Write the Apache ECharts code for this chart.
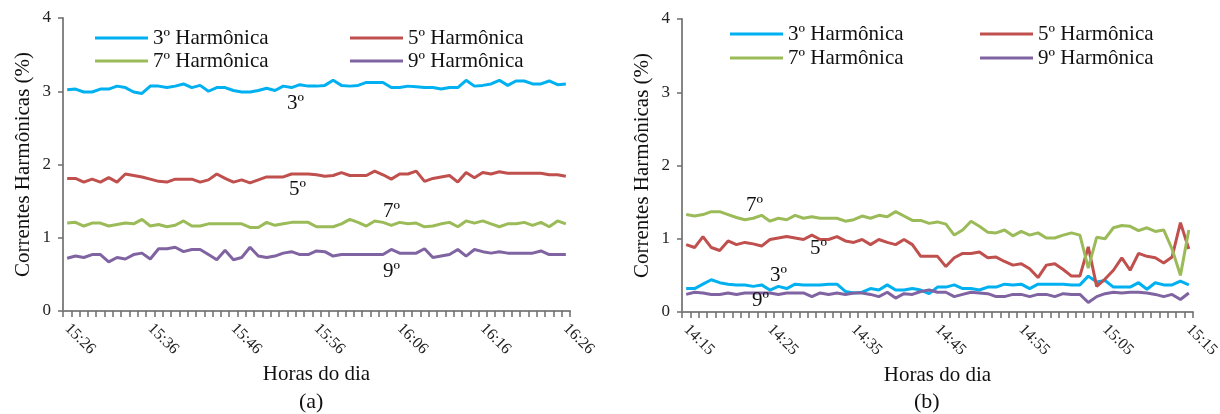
<!DOCTYPE html>
<html><head><meta charset="utf-8">
<script src="https://cdn.jsdelivr.net/npm/echarts@6/dist/echarts.min.js"></script>
<style>html,body{margin:0;padding:0;background:#fff}#c{width:1220px;height:414px}</style>
</head><body><div id="c"></div>
<script>
const timesA = ["15:26","15:27","15:28","15:29","15:30","15:31","15:32","15:33","15:34","15:35","15:36","15:37","15:38","15:39","15:40","15:41","15:42","15:43","15:44","15:45","15:46","15:47","15:48","15:49","15:50","15:51","15:52","15:53","15:54","15:55","15:56","15:57","15:58","15:59","16:00","16:01","16:02","16:03","16:04","16:05","16:06","16:07","16:08","16:09","16:10","16:11","16:12","16:13","16:14","16:15","16:16","16:17","16:18","16:19","16:20","16:21","16:22","16:23","16:24","16:25","16:26"];
const timesB = ["14:15","14:16","14:17","14:18","14:19","14:20","14:21","14:22","14:23","14:24","14:25","14:26","14:27","14:28","14:29","14:30","14:31","14:32","14:33","14:34","14:35","14:36","14:37","14:38","14:39","14:40","14:41","14:42","14:43","14:44","14:45","14:46","14:47","14:48","14:49","14:50","14:51","14:52","14:53","14:54","14:55","14:56","14:57","14:58","14:59","15:00","15:01","15:02","15:03","15:04","15:05","15:06","15:07","15:08","15:09","15:10","15:11","15:12","15:13","15:14","15:15"];
const seriesNames = ["3º Harmônica","5º Harmônica","7º Harmônica","9º Harmônica"];
const yAxisTitle = "Correntes Harmônicas (%)";
const xAxisTitle = "Horas do dia";

const h3a = [3.02,3.03,2.99,2.99,3.03,3.03,3.07,3.05,2.99,2.97,3.07,3.07,3.05,3.07,3.10,3.05,3.08,3.00,3.05,3.05,3.01,2.99,2.99,3.01,3.04,3.01,3.07,3.05,3.09,3.07,3.07,
  3.08,3.15,3.08,3.07,3.08,3.12,3.12,3.12,3.05,3.05,3.07,3.06,3.05,3.05,3.03,3.05,3.05,3.15,3.07,3.08,3.10,3.15,3.08,3.14,3.14,3.10,3.10,3.14,3.09,3.10];
const h5a = [1.81,1.81,1.76,1.80,1.76,1.82,1.76,1.87,1.85,1.83,1.80,1.77,1.76,1.80,1.80,1.80,1.76,1.79,1.87,1.81,1.76,1.79,1.75,1.79,1.83,1.83,1.83,1.87,1.87,1.87,1.86,
  1.84,1.85,1.89,1.85,1.85,1.85,1.91,1.86,1.80,1.87,1.87,1.91,1.77,1.81,1.83,1.85,1.76,1.89,1.82,1.89,1.87,1.90,1.88,1.88,1.88,1.88,1.88,1.86,1.86,1.84];
const h7a = [1.20,1.21,1.16,1.20,1.20,1.16,1.18,1.20,1.19,1.25,1.16,1.18,1.15,1.17,1.23,1.16,1.16,1.19,1.19,1.19,1.19,1.19,1.14,1.14,1.21,1.17,1.19,1.21,1.21,1.21,1.15,
  1.15,1.15,1.19,1.25,1.21,1.16,1.23,1.21,1.17,1.21,1.19,1.20,1.15,1.16,1.19,1.21,1.15,1.23,1.20,1.23,1.19,1.15,1.19,1.19,1.21,1.17,1.21,1.15,1.23,1.19];
const h9a = [0.72,0.75,0.73,0.77,0.77,0.67,0.73,0.71,0.77,0.79,0.71,0.85,0.85,0.87,0.81,0.84,0.84,0.77,0.70,0.83,0.70,0.73,0.87,0.75,0.73,0.75,0.79,0.81,0.77,0.77,0.82,
  0.81,0.75,0.77,0.77,0.77,0.77,0.77,0.77,0.84,0.79,0.79,0.79,0.85,0.73,0.75,0.77,0.84,0.75,0.84,0.81,0.79,0.81,0.79,0.79,0.79,0.79,0.82,0.77,0.77,0.77];

const h3b = [0.32,0.32,0.38,0.44,0.40,0.38,0.37,0.37,0.35,0.37,0.30,0.35,0.32,0.38,0.37,0.37,0.37,0.38,0.38,0.28,0.26,0.27,0.32,0.30,0.37,0.30,0.30,0.32,0.30,0.25,0.34,
  0.34,0.37,0.32,0.32,0.30,0.34,0.34,0.38,0.37,0.38,0.32,0.38,0.38,0.38,0.38,0.37,0.37,0.49,0.41,0.43,0.34,0.34,0.34,0.40,0.31,0.40,0.37,0.37,0.42,0.37];
const h5b = [0.92,0.88,1.03,0.88,0.84,0.97,0.92,0.95,0.93,0.90,0.99,1.01,1.03,1.01,0.99,1.05,0.99,0.99,1.03,0.97,0.95,0.99,0.92,0.99,0.95,0.92,0.99,0.92,0.76,0.76,0.76,
  0.62,0.74,0.80,0.80,0.82,0.74,0.75,0.69,0.64,0.66,0.59,0.47,0.64,0.66,0.58,0.49,0.49,0.89,0.35,0.45,0.57,0.74,0.57,0.80,0.76,0.74,0.67,0.75,1.22,0.86];
const h7b = [1.33,1.31,1.33,1.37,1.37,1.33,1.29,1.26,1.28,1.32,1.24,1.28,1.26,1.32,1.28,1.30,1.28,1.28,1.28,1.24,1.26,1.31,1.28,1.32,1.30,1.37,1.31,1.25,1.25,1.21,1.23,
  1.20,1.05,1.12,1.24,1.17,1.09,1.08,1.12,1.04,1.10,1.05,1.08,1.01,1.01,1.05,1.08,1.05,0.60,1.02,1.00,1.15,1.18,1.17,1.11,1.15,1.10,1.12,0.86,0.50,1.12];
const h9b = [0.24,0.27,0.26,0.24,0.24,0.26,0.24,0.26,0.26,0.26,0.26,0.24,0.26,0.26,0.26,0.21,0.26,0.24,0.26,0.24,0.26,0.26,0.24,0.21,0.27,0.19,0.25,0.24,0.28,0.30,0.27,
  0.27,0.21,0.24,0.27,0.26,0.25,0.21,0.21,0.24,0.24,0.21,0.24,0.24,0.21,0.25,0.24,0.24,0.13,0.21,0.25,0.27,0.26,0.27,0.27,0.26,0.24,0.21,0.24,0.17,0.26];

const colors = ["#00B0F0","#C0504D","#9BBB59","#8064A2"];
const FF = "'Liberation Serif','Times New Roman',serif";
const AX = "#868686";

function xAxis(gi, cats){
  return {type:'category', gridIndex:gi, data:cats, boundaryGap:true,
    axisLine:{show:true, onZero:false, lineStyle:{color:AX, width:2}},
    axisTick:{show:true, interval:0, length:6, lineStyle:{color:'#6e6e6e', width:1.5}},
    axisLabel:{show:true, interval:9, rotate:-45, margin:15, fontSize:16, color:'#222', fontFamily:FF},
    name:xAxisTitle, nameLocation:'middle', nameGap:51,
    nameTextStyle:{fontSize:21, color:'#111', fontFamily:FF}};
}
function yAxis(gi){
  return {type:'value', gridIndex:gi, min:0, max:4, interval:1,
    axisLine:{show:true, lineStyle:{color:AX, width:2}},
    axisTick:{show:true, length:5, lineStyle:{color:'#6e6e6e', width:1.5}},
    splitLine:{show:false},
    axisLabel:{fontSize:17, color:'#222', margin:12, fontFamily:FF},
    name:yAxisTitle, nameLocation:'middle', nameRotate:90, nameGap:29,
    nameTextStyle:{fontSize:21, color:'#111', fontFamily:FF}};
}
function mkSeries(gi, arrs){
  return arrs.map((d,k)=>({type:'line', name:seriesNames[k], xAxisIndex:gi, yAxisIndex:gi,
    data:d, symbol:'none', color:colors[k], lineStyle:{width:3, color:colors[k]}, animation:false}));
}
function legendItem(k, left, cy){
  return {data:[seriesNames[k]], left:left, top:cy-12, padding:0, itemWidth:53, itemHeight:3,
    icon:'rect', selectedMode:false,
    textStyle:{fontSize:21, fontFamily:FF, color:'#111', lineHeight:24}};
}
function note(txt, cx, cy){
  return {type:'text', left:cx-9, top:cy-12, style:{text:txt, font:"21px "+FF, fill:'#111'}, z:100};
}

const chart = echarts.init(document.getElementById('c'));
chart.setOption({
  animation:false,
  backgroundColor:'#fff',
  grid:[
    {left:63, right:650, top:18, bottom:103, outerBoundsMode:'none'},
    {left:682, right:27, top:19, bottom:102, outerBoundsMode:'none'}
  ],
  xAxis:[xAxis(0,timesA), xAxis(1,timesB)],
  yAxis:[yAxis(0), yAxis(1)],
  legend:[
    legendItem(0,95,38), legendItem(1,350,38), legendItem(2,95,61), legendItem(3,350,61),
    legendItem(0,730,34), legendItem(1,980,34), legendItem(2,730,58), legendItem(3,980,58)
  ],
  series:[...mkSeries(0,[h3a,h5a,h7a,h9a]), ...mkSeries(1,[h3b,h5b,h7b,h9b])],
  graphic:[
    note('3º',296,105), note('5º',298,191), note('7º',392,213), note('9º',392,273),
    note('7º',755,207), note('5º',819,250), note('3º',779,277), note('9º',761,302),
    {type:'text', left:299, top:391, style:{text:'(a)', font:"22px "+FF, fill:'#111'}},
    {type:'text', left:914, top:391, style:{text:'(b)', font:"22px "+FF, fill:'#111'}}
  ]
});
</script></body></html>
